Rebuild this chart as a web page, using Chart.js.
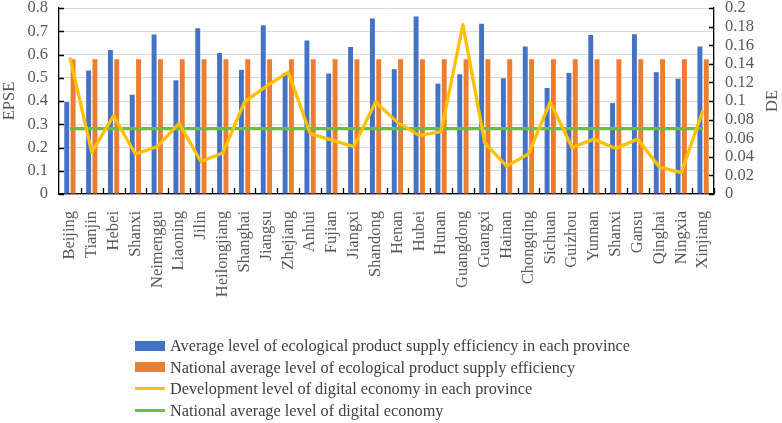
<!DOCTYPE html>
<html>
<head>
<meta charset="utf-8">
<script src="https://cdn.jsdelivr.net/npm/chart.js@4/dist/chart.umd.min.js"></script>
<style>
  body { margin: 0; background: #fff; }
  #wrap { position: relative; width: 782px; height: 423px; }
  #legend {
    position: absolute; left: 135px; top: 335px;
    font-family: "Liberation Serif", "Times New Roman", serif;
    font-size: 16.3px; color: #404040;
  }
  .item { height: 21.6px; line-height: 21.6px; display: flex; align-items: center; white-space: nowrap; }
  .sym { width: 30px; margin-right: 5px; }
</style>
</head>
<body>
<div id="wrap">
  <canvas id="chart"></canvas>
  <div id="legend"></div>
</div>
<script>
const provinces = ["Beijing", "Tianjin", "Hebei", "Shanxi", "Neimenggu", "Liaoning", "Jilin",
  "Heilongjiang", "Shanghai", "Jiangsu", "Zhejiang", "Anhui", "Fujian", "Jiangxi", "Shandong",
  "Henan", "Hubei", "Hunan", "Guangdong", "Guangxi", "Hainan", "Chongqing", "Sichuan",
  "Guizhou", "Yunnan", "Shanxi", "Gansu", "Qinghai", "Ningxia", "Xinjiang"];

// EPSE per province (left axis)
const provinceEPSE = [0.396, 0.531, 0.619, 0.427, 0.686, 0.489, 0.713, 0.606, 0.534, 0.726,
  0.521, 0.660, 0.518, 0.632, 0.755, 0.537, 0.763, 0.475, 0.515, 0.732,
  0.498, 0.634, 0.456, 0.521, 0.684, 0.391, 0.687, 0.524, 0.496, 0.634];
const nationalEPSE = [0.58, 0.58, 0.58, 0.58, 0.58, 0.58, 0.58, 0.58, 0.58, 0.58,
  0.58, 0.58, 0.58, 0.58, 0.58, 0.58, 0.58, 0.58, 0.58, 0.58,
  0.58, 0.58, 0.58, 0.58, 0.58, 0.58, 0.58, 0.58, 0.58, 0.58];

// DE per province (right axis)
const provinceDE = [0.147, 0.045, 0.084, 0.043, 0.051, 0.076, 0.035, 0.044, 0.099, 0.116,
  0.131, 0.065, 0.058, 0.051, 0.099, 0.077, 0.063, 0.067, 0.182, 0.055,
  0.030, 0.043, 0.099, 0.050, 0.059, 0.049, 0.059, 0.029, 0.023, 0.090];
const nationalDE = [0.0703, 0.0703, 0.0703, 0.0703, 0.0703, 0.0703, 0.0703, 0.0703, 0.0703, 0.0703,
  0.0703, 0.0703, 0.0703, 0.0703, 0.0703, 0.0703, 0.0703, 0.0703, 0.0703, 0.0703,
  0.0703, 0.0703, 0.0703, 0.0703, 0.0703, 0.0703, 0.0703, 0.0703, 0.0703, 0.0703];

const serif = "'Liberation Serif', 'Times New Roman', serif";
const tickColor = "#595959";
const fontSize = 16.5;

// excel style ticks pointing into the plot, plus the right title read bottom-up
const axisExtras = {
  id: "axisExtras",
  afterDraw(chart) {
    const { ctx, chartArea, scales } = chart;
    const x = scales.x, y = scales.y, y1 = scales.y1;
    ctx.save();
    ctx.strokeStyle = "#000";
    ctx.lineWidth = 1.3;
    ctx.beginPath();
    const step = x.getPixelForValue(1) - x.getPixelForValue(0);
    for (let i = 1; i <= provinces.length; i++) {
      const px = Math.round(x.getPixelForValue(i) - step / 2) + 0.5;
      ctx.moveTo(px, chartArea.bottom);
      ctx.lineTo(px, chartArea.bottom - 6);
    }
    y.ticks.forEach((t) => {
      const py = Math.round(y.getPixelForValue(t.value)) + 0.5;
      ctx.moveTo(chartArea.left, py);
      ctx.lineTo(chartArea.left + 5, py);
    });
    y1.ticks.forEach((t) => {
      const py = Math.round(y1.getPixelForValue(t.value)) + 0.5;
      ctx.moveTo(chartArea.right, py);
      ctx.lineTo(chartArea.right - 5, py);
    });
    ctx.stroke();

    ctx.fillStyle = tickColor;
    ctx.font = fontSize + "px " + serif;
    ctx.textAlign = "center";
    ctx.textBaseline = "middle";
    ctx.translate(y1.right - 9, (chartArea.top + chartArea.bottom) / 2);
    ctx.rotate(-Math.PI / 2);
    ctx.fillText("DE", 0, 0);
    ctx.restore();
  },
};

const chart = new Chart(document.getElementById("chart"), {
  type: "bar",
  data: {
    labels: provinces,
    datasets: [
      {
        label: "Average level of ecological product supply efficiency in each province",
        data: provinceEPSE,
        backgroundColor: "#4472C4",
        yAxisID: "y",
        order: 2,
        categoryPercentage: 0.58,
        barPercentage: 0.78,
      },
      {
        label: "National average level of ecological product supply efficiency",
        data: nationalEPSE,
        backgroundColor: "#ED7D31",
        yAxisID: "y",
        order: 3,
        categoryPercentage: 0.58,
        barPercentage: 0.78,
      },
      {
        type: "line",
        label: "Development level of digital economy in each province",
        data: provinceDE,
        borderColor: "#FFC000",
        backgroundColor: "#FFC000",
        borderWidth: 3.3,
        borderJoinStyle: "round",
        pointRadius: 0,
        tension: 0,
        yAxisID: "y1",
        order: 0,
      },
      {
        type: "line",
        label: "National average level of digital economy",
        data: nationalDE,
        borderColor: "#6EBB46",
        backgroundColor: "#6EBB46",
        borderWidth: 3.3,
        pointRadius: 0,
        yAxisID: "y1",
        order: 1,
      },
    ],
  },
  options: {
    responsive: true,
    maintainAspectRatio: false,
    animation: false,
    layout: { padding: 0 },
    plugins: {
      legend: { display: false },
      tooltip: { enabled: false },
    },
    scales: {
      x: {
        grid: { display: false },
        border: { color: "#000", width: 1.3 },
        ticks: {
          autoSkip: false,
          minRotation: 90,
          maxRotation: 90,
          padding: 9,
          color: tickColor,
          font: { family: serif, size: fontSize },
        },
        afterFit(scale) {
          scale.height = 229;
        },
      },
      y: {
        position: "left",
        min: 0,
        max: 0.8,
        ticks: {
          stepSize: 0.1,
          autoSkip: false,
          padding: 11,
          color: tickColor,
          font: { family: serif, size: fontSize },
          callback: (v) => String(+v.toFixed(1)),
        },
        grid: { color: "#D9D9D9", lineWidth: 1, drawTicks: false },
        border: { color: "#000", width: 1.3 },
        title: {
          display: true,
          text: "EPSE",
          color: tickColor,
          padding: 0,
          font: { family: serif, size: fontSize },
        },
        afterFit(scale) {
          scale.width = 59;
          scale.paddingTop = 8;
          scale.paddingBottom = 0;
        },
      },
      y1: {
        position: "right",
        min: 0,
        max: 0.2,
        ticks: {
          stepSize: 0.02,
          autoSkip: false,
          padding: 11,
          color: tickColor,
          font: { family: serif, size: fontSize },
          callback: (v) => String(+v.toFixed(2)),
        },
        grid: { display: false, drawTicks: false },
        border: { color: "#000", width: 1.3 },
        afterFit(scale) {
          scale.width = 68;
          scale.paddingTop = 8;
          scale.paddingBottom = 0;
        },
      },
    },
  },
  plugins: [axisExtras],
});

// legend, one entry per row like the original
const legendBox = document.getElementById("legend");
chart.data.datasets.forEach((ds) => {
  const row = document.createElement("div");
  row.className = "item";
  const sym = document.createElement("span");
  sym.className = "sym";
  sym.style.background = ds.type === "line" ? ds.borderColor : ds.backgroundColor;
  sym.style.height = ds.type === "line" ? "3px" : "10px";
  row.appendChild(sym);
  row.appendChild(document.createTextNode(ds.label));
  legendBox.appendChild(row);
});
</script>
</body>
</html>
